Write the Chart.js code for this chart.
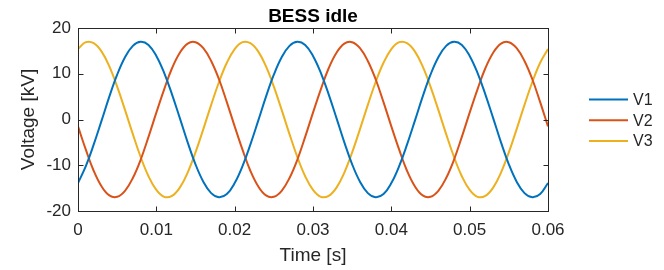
<!DOCTYPE html>
<html>
<head>
<meta charset="utf-8">
<script src="https://cdn.jsdelivr.net/npm/chart.js@4.4.1/dist/chart.umd.min.js"></script>
<style>
  html, body { margin: 0; padding: 0; background: #fff; }
  canvas { display: block; }
</style>
</head>
<body>
<canvas id="bessChart" width="664" height="270"></canvas>
<script>
// === DATA (1 ms steps) ===
const times = [
  0, 0.001, 0.002, 0.003, 0.004, 0.005, 0.006, 0.007, 0.008, 0.009,
  0.010, 0.011, 0.012, 0.013, 0.014, 0.015, 0.016, 0.017, 0.018, 0.019,
  0.020, 0.021, 0.022, 0.023, 0.024, 0.025, 0.026, 0.027, 0.028, 0.029,
  0.030, 0.031, 0.032, 0.033, 0.034, 0.035, 0.036, 0.037, 0.038, 0.039,
  0.040, 0.041, 0.042, 0.043, 0.044, 0.045, 0.046, 0.047, 0.048, 0.049,
  0.050, 0.051, 0.052, 0.053, 0.054, 0.055, 0.056, 0.057, 0.058, 0.059,
  0.060
];

const v1 = [
  -13.9, -10.2, -5.5, -0.3, 5.0, 9.8, 13.6, 16.1, 17.0, 16.3,
  13.9, 10.2, 5.5, 0.3, -5.0, -9.8, -13.6, -16.1, -17.0, -16.3,
  -13.9, -10.2, -5.5, -0.3, 5.0, 9.8, 13.6, 16.1, 17.0, 16.3,
  13.9, 10.2, 5.5, 0.3, -5.0, -9.8, -13.6, -16.1, -17.0, -16.3,
  -13.9, -10.2, -5.5, -0.3, 5.0, 9.8, 13.6, 16.1, 17.0, 16.3,
  13.9, 10.2, 5.5, 0.3, -5.0, -9.8, -13.6, -16.1, -17.0, -16.3,
  -13.9
];

const v2 = [
  -1.5, -6.6, -11.2, -14.6, -16.6, -16.9, -15.6, -12.8, -8.8, -3.8,
  1.5, 6.6, 11.2, 14.6, 16.6, 16.9, 15.6, 12.8, 8.8, 3.8,
  -1.5, -6.6, -11.2, -14.6, -16.6, -16.9, -15.6, -12.8, -8.8, -3.8,
  1.5, 6.6, 11.2, 14.6, 16.6, 16.9, 15.6, 12.8, 8.8, 3.8,
  -1.5, -6.6, -11.2, -14.6, -16.6, -16.9, -15.6, -12.8, -8.8, -3.8,
  1.5, 6.6, 11.2, 14.6, 16.6, 16.9, 15.6, 12.8, 8.8, 3.8,
  -1.5
];

const v3 = [
  15.4, 16.9, 16.7, 14.9, 11.6, 7.2, 2.1, -3.2, -8.2, -12.4,
  -15.4, -16.9, -16.7, -14.9, -11.6, -7.2, -2.1, 3.2, 8.2, 12.4,
  15.4, 16.9, 16.7, 14.9, 11.6, 7.2, 2.1, -3.2, -8.2, -12.4,
  -15.4, -16.9, -16.7, -14.9, -11.6, -7.2, -2.1, 3.2, 8.2, 12.4,
  15.4, 16.9, 16.7, 14.9, 11.6, 7.2, 2.1, -3.2, -8.2, -12.4,
  -15.4, -16.9, -16.7, -14.9, -11.6, -7.2, -2.1, 3.2, 8.2, 12.4,
  15.4
];

const seriesNames = ["V1", "V2", "V3"];
const seriesColors = ["#0072BD", "#D95319", "#EDB120"];
const xTicks = [0, 0.01, 0.02, 0.03, 0.04, 0.05, 0.06];
const yTicks = [-20, -10, 0, 10, 20];

const FONT = "'Liberation Sans', Arial, Helvetica, sans-serif";
const AXIS = "#262626";

const toPoints = (vals) => vals.map((v, i) => ({ x: times[i], y: v }));

// === BOX, INWARD TICKS AND LEGEND (MATLAB look) ===
const framePlugin = {
  id: "frame",
  afterDatasetsDraw(chart) {
    const { ctx, chartArea: a, scales } = chart;
    const L = Math.round(a.left) + 0.5, R = Math.round(a.right) + 0.5;
    const T = Math.round(a.top) + 0.5, B = Math.round(a.bottom) + 0.5;
    ctx.save();
    ctx.strokeStyle = AXIS;
    ctx.lineWidth = 1;
    ctx.strokeRect(L, T, R - L, B - T);
    ctx.beginPath();
    xTicks.forEach((t) => {
      const px = Math.round(scales.x.getPixelForValue(t)) + 0.5;
      ctx.moveTo(px, B); ctx.lineTo(px, B - 5);
      ctx.moveTo(px, T); ctx.lineTo(px, T + 5);
    });
    yTicks.forEach((t) => {
      const py = Math.round(scales.y.getPixelForValue(t)) + 0.5;
      ctx.moveTo(L, py); ctx.lineTo(L + 5, py);
      ctx.moveTo(R, py); ctx.lineTo(R - 5, py);
    });
    ctx.stroke();

    // legend
    ctx.font = "16px " + FONT;
    ctx.textBaseline = "middle";
    ctx.textAlign = "left";
    chart.data.datasets.forEach((ds, i) => {
      const y = 99.5 + i * 20.7;
      ctx.strokeStyle = ds.borderColor;
      ctx.lineWidth = 2;
      ctx.beginPath();
      ctx.moveTo(589, y);
      ctx.lineTo(628, y);
      ctx.stroke();
      ctx.fillStyle = AXIS;
      ctx.fillText(ds.label, 633, y + 1);
    });
    ctx.restore();
  },
};

const ctx = document.getElementById("bessChart").getContext("2d");

new Chart(ctx, {
  type: "line",
  data: {
    datasets: [v1, v2, v3].map((vals, i) => ({
      label: seriesNames[i],
      data: toPoints(vals),
      borderColor: seriesColors[i],
      borderWidth: 2,
      pointRadius: 0,
      tension: 0.4,
      fill: false,
    })),
  },
  options: {
    responsive: false,
    animation: false,
    layout: { padding: { left: 0, right: 116, top: 0.2, bottom: 0 } },
    plugins: {
      legend: { display: false },
      tooltip: { enabled: false },
      title: {
        display: true,
        text: "BESS idle",
        fullSize: false,
        color: "#000",
        font: { family: FONT, size: 19, weight: "bold" },
        padding: { top: 5, bottom: 0 },
      },
    },
    scales: {
      x: {
        type: "linear",
        min: 0,
        max: 0.06,
        afterBuildTicks: (s) => { s.ticks = xTicks.map((v) => ({ value: v })); },
        afterFit: (s) => { s.height = 59; },
        grid: { display: false, drawTicks: false },
        border: { display: false },
        ticks: {
          color: AXIS,
          padding: 9,
          maxRotation: 0,
          font: { family: FONT, size: 17 },
          callback: (v) => String(+v.toFixed(2)),
        },
        title: {
          display: true,
          text: "Time [s]",
          color: AXIS,
          font: { family: FONT, size: 19 },
          padding: { top: 0, bottom: 3 },
        },
      },
      y: {
        min: -20,
        max: 20,
        afterBuildTicks: (s) => { s.ticks = yTicks.map((v) => ({ value: v })); },
        afterFit: (s) => { s.width = 78; },
        grid: { display: false, drawTicks: false },
        border: { display: false },
        ticks: {
          color: AXIS,
          padding: 7,
          font: { family: FONT, size: 17 },
          callback: (v) => String(v),
        },
        title: {
          display: true,
          text: "Voltage [kV]",
          color: AXIS,
          font: { family: FONT, size: 19 },
          padding: { top: 17, bottom: 0 },
        },
      },
    },
  },
  plugins: [framePlugin],
});
</script>
</body>
</html>
